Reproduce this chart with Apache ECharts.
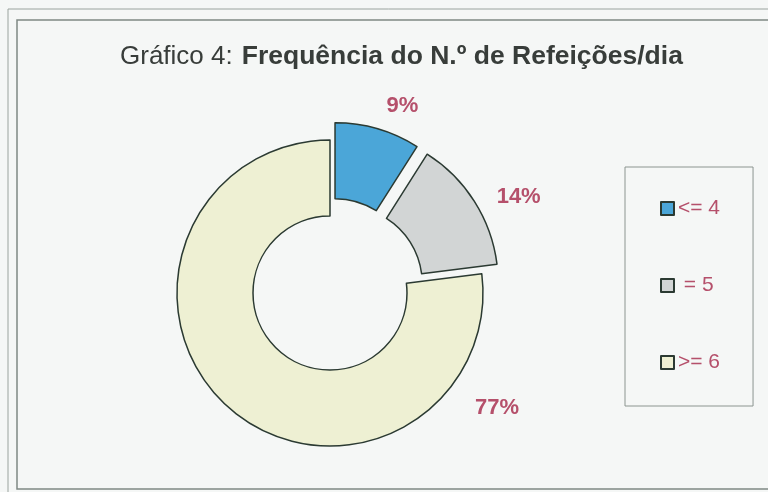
<!DOCTYPE html>
<html>
<head>
<meta charset="utf-8">
<script src="https://cdn.jsdelivr.net/npm/echarts@6/dist/echarts.min.js"></script>
<style>
html,body{margin:0;padding:0;background:#f5f7f6;}
#main{width:768px;height:492px;}
</style>
</head>
<body>
<div id="main"></div>
<script>
var categories = ['<= 4', ' = 5', '>= 6'];
var values = [9, 14, 77];
var colors = ['#4ba6d8', '#d2d5d5', '#eef0d3'];
var exploded = [true, true, false];

var labelColor = '#b5506b';
var edgeColor = '#2b3a32';

var pieData = categories.map(function(name, i){
	var item = {
		name: name,
		value: values[i],
		selected: exploded[i],
		itemStyle: {color: colors[i]}
	};
	if (i == 1) {
		item.label = {offset: [0, 8]};
		item.select = {label: {offset: [0, 8]}};
	}
	// excel puts the big slice label on the lower right
	if (i == 2) {
		item.label = {align: 'left', offset: [308, -18]};
	}
	return item;
});

var myChart = echarts.init(document.getElementById('main'));
var option = {
	backgroundColor: '#f5f7f6',
	animation: false,
	graphic: [
		{type: 'rect', shape: {x: 8, y: 9, width: 820, height: 520}, style: {fill: 'none', stroke: '#9aa39e', lineWidth: 1}},
		{type: 'rect', shape: {x: 17, y: 20, width: 810, height: 469}, style: {fill: 'none', stroke: '#7f8984', lineWidth: 1.5}}
	],
	title: {
		text: '{a|Gráfico 4:}{b|Frequência do N.º de Refeições/dia}',
		left: 115,
		top: 38,
		textStyle: {
			rich: {
				a: {fontFamily: 'Liberation Sans', fontSize: 26, fontWeight: 'normal', color: '#383d3a'},
				b: {fontFamily: 'Liberation Sans', fontSize: 26.5, fontWeight: 'bold', color: '#383d3a', padding: [0, 0, 0, 9]}
			}
		}
	},
	legend: {
		orient: 'vertical',
		left: 625,
		top: 167,
		padding: [31, 33, 33, 35],
		itemWidth: 13,
		itemHeight: 13,
		itemGap: 56,
		icon: 'rect',
		borderColor: '#8c9590',
		borderWidth: 1,
		textStyle: {fontFamily: 'Liberation Sans', fontSize: 21, color: labelColor, padding: [0, 0, 0, -1]},
		data: categories
	},
	series: [{
		type: 'pie',
		center: [330, 293],
		radius: [77, 153],
		startAngle: 90,
		clockwise: true,
		selectedMode: 'multiple',
		selectedOffset: 18,
		avoidLabelOverlap: false,
		itemStyle: {borderColor: edgeColor, borderWidth: 1.5},
		label: {
			show: true,
			position: 'outside',
			formatter: '{d}%',
			fontFamily: 'Liberation Sans',
			fontSize: 22,
			fontWeight: 'bold',
			color: labelColor,
			distanceToLabelLine: 0
		},
		labelLine: {show: false, length: 24, length2: 2},
		emphasis: {disabled: true},
		select: {itemStyle: {borderColor: edgeColor, borderWidth: 1.5}},
		data: pieData
	}]
};
myChart.setOption(option);
</script>
</body>
</html>
